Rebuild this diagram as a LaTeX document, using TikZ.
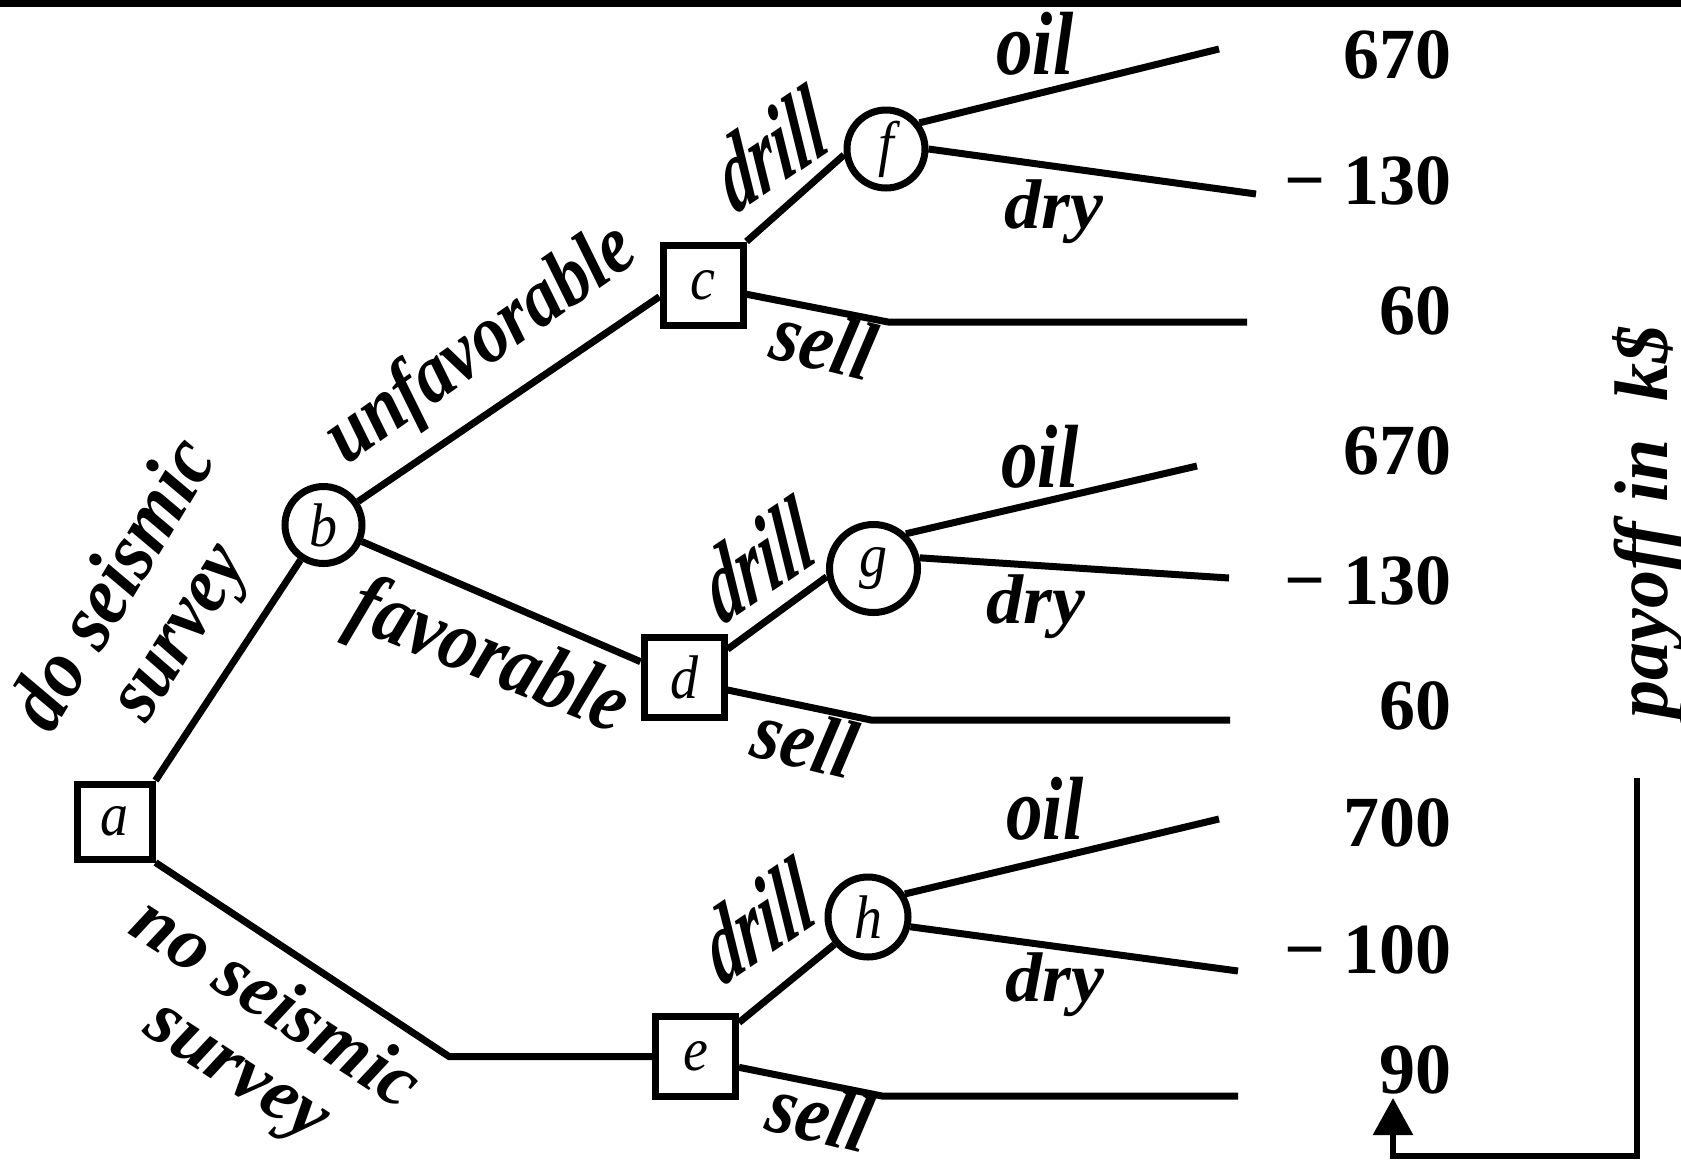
\documentclass[tikz,border=0pt]{standalone}
\usepackage{fontspec}
\usepackage{graphicx}
\setmainfont{Liberation Serif}
\usetikzlibrary{arrows.meta}
\newcommand{\lblsize}[1]{\fontsize{#1}{#1}\selectfont\bfseries\itshape}
\newcommand{\tallbox}[2]{\scalebox{1}[#1]{#2}}
\begin{document}
\begin{tikzpicture}[x=1pt,y=-1pt,
  wire/.style={line width=7pt, line join=miter},
  decision/.style={draw, rectangle, line width=7pt, minimum size=80pt, inner sep=0pt,
    fill=white, font=\fontsize{56}{56}\selectfont\itshape},
  chance/.style={draw, circle, line width=7pt, minimum size=78pt, inner sep=0pt,
    fill=white, font=\fontsize{56}{56}\selectfont\itshape},
  lab/.style={inner sep=0pt, font=\lblsize{70}},
  pay/.style={inner sep=0pt, anchor=base east, font=\fontsize{72}{72}\selectfont\bfseries},
]
\useasboundingbox (0,0) rectangle (1681,1160);
% rule along the top edge
\fill (0,0) rectangle (1681,7);

% decision (square) and chance (circle) nodes
\node[decision, minimum size=75pt] (a) at (114.5,821.5) {\tallbox{1.1}{a}};
\node[chance, minimum size=77pt] (b) at (323.5,525) {\tallbox{1.1}{b}};
\node[decision] (c) at (703,285) {\tallbox{1.1}{c}};
\node[decision] (d) at (684,677.5) {\tallbox{1.1}{d}};
\node[decision] (e) at (695.5,1056.5) {\tallbox{1.1}{e}};
\node[chance] (f) at (886,149) {\tallbox{1.1}{f}};
\node[chance, minimum size=88pt] (g) at (873.5,568.5) {\tallbox{1.1}{g}};
\node[chance, minimum size=80pt] (h) at (868,917) {\tallbox{1.1}{h}};

% bends and free ends of the branches
\coordinate (aBend) at (449,1056.5);
\coordinate (fOil) at (1219,49);
\coordinate (fDry) at (1256,194);
\coordinate (cBend) at (888,322);
\coordinate (cEnd) at (1247,322);
\coordinate (gOil) at (1197,466);
\coordinate (gDry) at (1229,578);
\coordinate (dBend) at (871,720);
\coordinate (dEnd) at (1230,720);
\coordinate (hOil) at (1219,819);
\coordinate (hDry) at (1238,971);
\coordinate (eBend) at (882,1096);
\coordinate (eEnd) at (1238,1096);

% branches
\draw[wire] (a.north east) -- (b);
\draw[wire] (a.south east) -- (aBend) -- (e);
\draw[wire] (b) -- (c.195);
\draw[wire] (b) -- (d.160);
\draw[wire] (c.north east) -- (f.188);
\draw[wire] (c.348) -- (cBend) -- (cEnd);
\draw[wire] (f.38) -- (fOil);
\draw[wire] (f.east) -- (fDry);
\draw[wire] (d.33) -- (g.190);
\draw[wire] (d.344) -- (dBend) -- (dEnd);
\draw[wire] (g.47) -- (gOil);
\draw[wire] (g.13) -- (gDry);
\draw[wire] (e.38) -- (h);
\draw[wire] (e.346) -- (eBend) -- (eEnd);
\draw[wire] (h.32) -- (hOil);
\draw[wire] (h.347) -- (hDry);

% branch labels
\node[lab, font=\lblsize{76}, rotate=59, yscale=1.1] (l1) at (110,582) {do seismic};
\node[lab, font=\lblsize{72}, rotate=58, yscale=1.1] (l2) at (189,638) {survey};
\node[lab, font=\lblsize{72}, rotate=35, yscale=1.15] (l3) at (482,346) {unfavorable};
\node[lab, font=\lblsize{75}, rotate=-22, yscale=1.15] (l4) at (488,660) {favorable};
\node[lab, font=\lblsize{68}, rotate=34, xslant=0.25, yscale=1.5] (l5) at (771,149) {drill};
\node[lab, font=\lblsize{73}, yscale=1.23] (l6) at (1035,44) {oil};
\node[lab, font=\lblsize{74}, yscale=0.95] (l7) at (1054,212) {dry};
\node[lab, font=\lblsize{74}, rotate=-14, yscale=1.12] (l8) at (824,342) {sell};
\node[lab, font=\lblsize{68}, rotate=34, xslant=0.25, yscale=1.5] (l9) at (758,560) {drill};
\node[lab, font=\lblsize{73}, yscale=1.23] (l10) at (1040,457) {oil};
\node[lab, font=\lblsize{74}, yscale=0.95] (l11) at (1036,607) {dry};
\node[lab, font=\lblsize{74}, rotate=-14, yscale=1.12] (l12) at (805,740) {sell};
\node[lab, font=\lblsize{68}, rotate=34, xslant=0.25, yscale=1.5] (l13) at (758,921) {drill};
\node[lab, font=\lblsize{73}, yscale=1.23] (l14) at (1045,809) {oil};
\node[lab, font=\lblsize{74}, yscale=0.95] (l15) at (1055,985) {dry};
\node[lab, font=\lblsize{74}, rotate=-14, yscale=1.12] (l16) at (820,1114) {sell};
\node[lab, font=\lblsize{76}, rotate=-33] (l17) at (278,1000) {no seismic};
\node[lab, font=\lblsize{76}, rotate=-33] (l18) at (232,1080) {survey};

% payoffs
\node[pay] (p1) at (1452,78) {670};
\node[pay] (p2) at (1452,204) {− 130};
\node[pay] (p3) at (1452,334) {60};
\node[pay] (p4) at (1452,474) {670};
\node[pay] (p5) at (1452,604) {− 130};
\node[pay] (p6) at (1452,729) {60};
\node[pay] (p7) at (1452,846) {700};
\node[pay] (p8) at (1452,973) {− 100};
\node[pay] (p9) at (1452,1093) {90};

% axis caption with its bracket arrow
\node[lab, font=\lblsize{76}, rotate=90] (unit) at (1648,522) {payoff in~~k\$};
\coordinate (brTop) at (1637,778);
\coordinate (brCorner) at (1637,1156);
\coordinate (brFoot) at (1393,1156);
\coordinate (brTip) at (1393,1098);
\draw[wire, line width=6pt, -{Triangle[width=39pt,length=37pt]}] (brTop) -- (brCorner) -- (brFoot) -- (brTip);
\end{tikzpicture}
\end{document}
